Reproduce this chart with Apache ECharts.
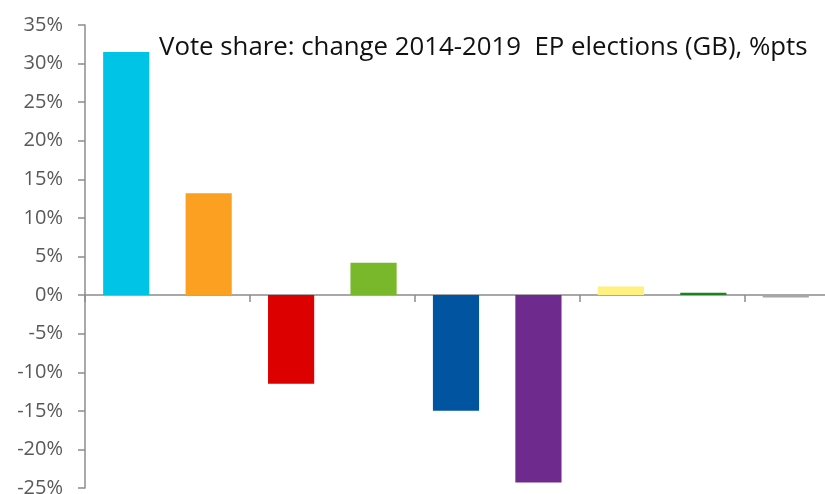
<!DOCTYPE html>
<html>
<head>
<meta charset="utf-8">
<script src="https://cdn.jsdelivr.net/npm/echarts@6/dist/echarts.min.js"></script>
<style>
  html, body { margin: 0; padding: 0; background: #fff; }
  #chart { width: 825px; height: 494px; }
</style>
</head>
<body>
<div id="chart"></div>
<script>
// Change in GB vote share between the 2014 and 2019 European Parliament elections
const parties = ['Brexit', 'Lib Dem', 'Labour', 'Green', 'Conservative', 'UKIP', 'SNP', 'Plaid Cymru', 'Other'];
const changePts = [31.5, 13.2, -11.5, 4.2, -15.0, -24.3, 1.1, 0.3, -0.3];
const partyColors = ['#00C4E6', '#FBA020', '#DC0000', '#78B82A', '#0054A0', '#6E2A8C', '#FFF07F', '#1E8020', '#A6A6A6'];
const titleText = 'Vote share: change 2014-2019  EP elections (GB), %pts';

const chart = echarts.init(document.getElementById('chart'), null, { renderer: 'canvas' });
const font = '"Open Sans", "Noto Sans", sans-serif';

chart.setOption({
  animation: false,
  title: {
    text: titleText,
    left: 154,
    top: 30,
    textStyle: { fontFamily: font, fontSize: 25.8, fontWeight: 'normal', color: '#111' }
  },
  grid: { left: 85, right: -2, top: 25, bottom: 6, containLabel: false, outerBoundsMode: 'none' },
  xAxis: {
    type: 'category',
    data: parties,
    axisLine: { onZero: true, lineStyle: { color: '#8c8c8c', width: 1.5 } },
    axisTick: { show: true, inside: false, length: 7, alignWithLabel: false, lineStyle: { color: '#8c8c8c', width: 1.5 } },
    axisLabel: { show: false },
    splitLine: { show: false }
  },
  yAxis: {
    type: 'value',
    min: -25,
    max: 35,
    interval: 5,
    axisLine: { show: true, lineStyle: { color: '#8c8c8c', width: 1.5 } },
    axisTick: { show: true, length: 7, lineStyle: { color: '#8c8c8c', width: 1.5 } },
    axisLabel: {
      formatter: '{value}%',
      fontFamily: font,
      fontSize: 20,
      color: '#595959',
      margin: 22
    },
    splitLine: { show: false }
  },
  series: [{
    type: 'bar',
    data: changePts.map((v, i) => ({ value: v, itemStyle: { color: partyColors[i] } })),
    barCategoryGap: '44%'
  }]
});
</script>
</body>
</html>
